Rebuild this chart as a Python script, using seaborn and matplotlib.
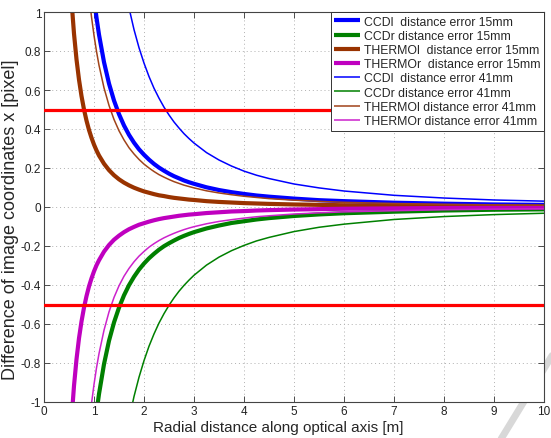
import numpy as np
import pandas as pd
import matplotlib
matplotlib.use("Agg")
import matplotlib.pyplot as plt
import seaborn as sns

# ---- data ----
x = [0.5, 0.55, 0.6, 0.65, 0.7, 0.75, 0.8, 0.85, 0.9, 0.95, 1.0, 1.05, 1.1, 1.2, 1.3,
     1.4, 1.5, 1.6, 1.7, 1.8, 1.9, 2.0, 2.1, 2.2, 2.3, 2.4, 2.5, 2.6, 2.7, 2.8, 2.9,
     3.0, 3.25, 3.5, 3.75, 4, 4.25, 4.5, 5, 5.5, 6, 7, 8, 9, 10]

ccdl_15 = [4.28, 3.537, 2.972, 2.533, 2.184, 1.902, 1.672, 1.481, 1.321, 1.186, 1.070,
           0.971, 0.884, 0.743, 0.633, 0.546, 0.476, 0.418, 0.370, 0.330, 0.296, 0.268,
           0.243, 0.221, 0.202, 0.186, 0.171, 0.158, 0.147, 0.136, 0.127, 0.119, 0.101,
           0.087, 0.076, 0.067, 0.059, 0.053, 0.043, 0.035, 0.030, 0.022, 0.017, 0.013,
           0.011]
ccdr_15 = [-4.64, -3.835, -3.222, -2.746, -2.367, -2.062, -1.813, -1.606, -1.432, -1.285,
           -1.160, -1.052, -0.959, -0.806, -0.686, -0.592, -0.516, -0.453, -0.401, -0.358,
           -0.321, -0.290, -0.263, -0.240, -0.219, -0.201, -0.186, -0.172, -0.159, -0.148,
           -0.138, -0.129, -0.110, -0.095, -0.082, -0.073, -0.064, -0.057, -0.046, -0.038,
           -0.032, -0.024, -0.018, -0.014, -0.012]
thermol_15 = [1.28, 1.058, 0.889, 0.757, 0.653, 0.569, 0.500, 0.443, 0.395, 0.355, 0.320,
              0.290, 0.264, 0.222, 0.189, 0.163, 0.142, 0.125, 0.111, 0.099, 0.089, 0.080,
              0.073, 0.066, 0.060, 0.056, 0.051, 0.047, 0.044, 0.041, 0.038, 0.036, 0.030,
              0.026, 0.023, 0.020, 0.018, 0.016, 0.013, 0.011, 0.009, 0.007, 0.005, 0.004,
              0.003]
thermor_15 = [-1.32, -1.091, -0.917, -0.781, -0.673, -0.587, -0.516, -0.457, -0.407, -0.366,
              -0.330, -0.299, -0.273, -0.229, -0.195, -0.168, -0.147, -0.129, -0.114, -0.102,
              -0.091, -0.083, -0.075, -0.068, -0.062, -0.057, -0.053, -0.049, -0.045, -0.042,
              -0.039, -0.037, -0.031, -0.027, -0.023, -0.021, -0.018, -0.016, -0.013, -0.011,
              -0.009, -0.007, -0.005, -0.004, -0.003]
ccdl_41 = [11.8, 9.752, 8.194, 6.982, 6.020, 5.244, 4.609, 4.083, 3.642, 3.269, 2.950,
           2.676, 2.438, 2.049, 1.746, 1.505, 1.311, 1.152, 1.021, 0.910, 0.817, 0.738,
           0.669, 0.609, 0.558, 0.512, 0.472, 0.436, 0.405, 0.376, 0.351, 0.328, 0.279,
           0.241, 0.210, 0.184, 0.163, 0.146, 0.118, 0.098, 0.082, 0.060, 0.046, 0.036,
           0.030]
ccdr_41 = [-12.6, -10.413, -8.750, -7.456, -6.429, -5.600, -4.922, -4.360, -3.889, -3.490,
           -3.150, -2.857, -2.603, -2.188, -1.864, -1.607, -1.400, -1.230, -1.090, -0.972,
           -0.873, -0.788, -0.714, -0.651, -0.595, -0.547, -0.504, -0.466, -0.432, -0.402,
           -0.375, -0.350, -0.298, -0.257, -0.224, -0.197, -0.174, -0.156, -0.126, -0.104,
           -0.088, -0.064, -0.049, -0.039, -0.032]
thermol_41 = [3.52, 2.909, 2.444, 2.083, 1.796, 1.564, 1.375, 1.218, 1.086, 0.975, 0.880,
              0.798, 0.727, 0.611, 0.521, 0.449, 0.391, 0.344, 0.304, 0.272, 0.244, 0.220,
              0.200, 0.182, 0.166, 0.153, 0.141, 0.130, 0.121, 0.112, 0.105, 0.098, 0.083,
              0.072, 0.063, 0.055, 0.049, 0.043, 0.035, 0.029, 0.024, 0.018, 0.014, 0.011,
              0.009]
thermor_41 = [-3.64, -3.008, -2.528, -2.154, -1.857, -1.618, -1.422, -1.260, -1.124, -1.008,
              -0.910, -0.825, -0.752, -0.632, -0.538, -0.464, -0.404, -0.355, -0.315, -0.281,
              -0.252, -0.228, -0.206, -0.188, -0.172, -0.158, -0.146, -0.135, -0.125, -0.116,
              -0.108, -0.101, -0.086, -0.074, -0.065, -0.057, -0.050, -0.045, -0.036, -0.030,
              -0.025, -0.019, -0.014, -0.011, -0.009]

labels = ["CCDl  distance error 15mm", "CCDr distance error 15mm",
          "THERMOl  distance error 15mm", "THERMOr  distance error 15mm",
          "CCDl  distance error 41mm", "CCDr distance error 41mm",
          "THERMOl distance error 41mm", "THERMOr distance error 41mm"]
series = [ccdl_15, ccdr_15, thermol_15, thermor_15, ccdl_41, ccdr_41, thermol_41, thermor_41]
thresholds = [0.5, -0.5]

xticks = list(range(0, 11))
yticks = [-1, -0.8, -0.6, -0.4, -0.2, 0, 0.2, 0.4, 0.6, 0.8, 1]

colors = ["#0000ff", "#008000", "#993300", "#bf00bf",
          "#0000ff", "#008000", "#a0431a", "#cc22cc"]
widths = [3.0, 3.0, 3.0, 3.0, 1.1, 1.1, 1.1, 1.1]

sns.set_theme(style="white")
plt.rcParams['font.family'] = ['Liberation Sans', 'DejaVu Sans']

fig = plt.figure(figsize=(5.51, 4.39), dpi=100)
ax = fig.add_axes([44 / 551, 1 - 403 / 439, 500 / 551, 390 / 439])

for lab, ys, c, w in zip(labels, series, colors, widths):
    df = pd.DataFrame({"x": x, "y": ys})
    sns.lineplot(data=df, x="x", y="y", ax=ax, color=c, linewidth=w, label=lab,
                 sort=False, estimator=None, solid_capstyle="butt")

for t in thresholds:
    ax.axhline(t, color="#ff0000", linewidth=2.3, zorder=5)

ax.set_xlim(0, 10)
ax.set_ylim(-1, 1)
ax.set_xticks(xticks)
ax.set_yticks(yticks)
ax.set_xticklabels([f"{v:g}" for v in xticks], fontsize=8.5)
ax.set_yticklabels([f"{v:g}" for v in yticks], fontsize=8.5)
ax.tick_params(direction="in", length=4, width=0.6, top=True, right=True,
               bottom=True, left=True, colors="#333333", labelcolor="#222222", pad=2)
ax.grid(True, linestyle=(0, (1, 3)), color="#b0b0b0", linewidth=0.7)
for s in ax.spines.values():
    s.set_color("#444444")
    s.set_linewidth(0.8)

ax.set_xlabel("Radial distance along optical axis [m]", fontsize=11)
ax.set_ylabel("Difference of image coordinates x [pixel]", fontsize=13)
ax.xaxis.set_label_coords(0.468, -0.046)
ax.yaxis.set_label_coords(-0.050, 0.47)

leg = ax.legend(loc="upper right", fontsize=8.8, frameon=True, fancybox=False,
                borderaxespad=0.0, borderpad=0.3, labelspacing=0.18,
                handlelength=2.1, handletextpad=0.3, framealpha=1.0)
leg.get_frame().set_edgecolor("#333333")
leg.get_frame().set_linewidth(0.7)
leg.set_zorder(10)

# faint watermark stroke at lower right
fig.add_artist(plt.Line2D([553 / 551, 498 / 551], [1 - 355 / 439, 1 - 445 / 439],
                          transform=fig.transFigure, color="#d8d8d8", linewidth=5,
                          zorder=0))

fig.savefig("out.png", dpi=100)
